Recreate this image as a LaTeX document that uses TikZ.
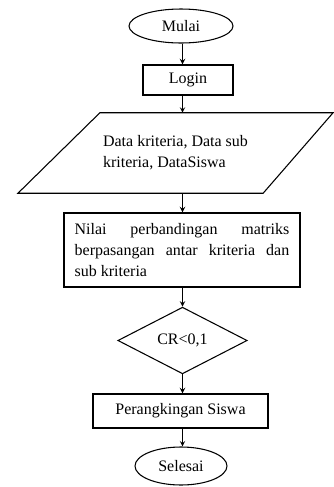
\documentclass[tikz,border=0pt]{standalone}
\usepackage{fontspec}
\setmainfont{Liberation Serif}
\usepackage{tikz}
\usetikzlibrary{positioning, shapes.geometric, arrows, calc}
\hyphenpenalty=10000
\exhyphenpenalty=10000
\tikzset{
  terminal/.style={draw, thick, ellipse, inner sep=0pt},
  prosesbox/.style={draw, line width=1.1pt, rectangle, inner sep=0pt},
  flowline/.style={thick, ->}
}

\begin{document}
\begin{tikzpicture}[>=stealth, x=0.75pt, y=-0.75pt, font=\fontsize{12}{15.5}\selectfont]
      \useasboundingbox (0,0) rectangle (334,487);
      \node[terminal, minimum width=78pt, minimum height=25.5pt] (mulai) at (181,26) {Mulai};
      \node[prosesbox, minimum width=67.5pt, minimum height=22.5pt] (login) at (188,80) {Login};
      \node[minimum width=236pt, minimum height=60pt, inner sep=0pt,
            align=left] (data) at (175.5,153)
            {Data kriteria, Data sub\\kriteria, DataSiswa};
      % jajaran genjang input data
      \draw[thick] ($(data.north west)+(82,0)$) -- (data.north east)
        -- ($(data.south east)+(-70,0)$) -- (data.south west) -- cycle;
      \node[prosesbox, minimum width=177pt, minimum height=55.5pt,
            text width=161pt, align=justify] (nilai) at (182,250)
            {Nilai perbandingan matriks berpasangan antar kriteria dan sub kriteria};
      \node[draw, thick, diamond, inner sep=0pt, minimum width=97pt, minimum height=50pt] (cr) at (182.5,340.5) {CR<0,1};
      \node[prosesbox, minimum width=131pt, minimum height=25.5pt] (rank) at (180.5,411) {Perangkingan Siswa};
      \node[terminal, minimum width=69pt, minimum height=28.5pt] (selesai) at (181,466) {Selesai};
      \draw[flowline] (mulai.south -| cr) -- (login.north -| cr);
      \draw[flowline] (login.south -| cr) -- (data.north -| cr);
      \draw[flowline] (data.south -| cr) -- (nilai.north -| cr);
      \draw[flowline] (nilai.south -| cr) -- (cr.north);
      \draw[flowline] (cr.south) -- (rank.north -| cr);
      \draw[flowline] (rank.south -| cr) -- (selesai.north -| cr);
    \end{tikzpicture}
\end{document}
